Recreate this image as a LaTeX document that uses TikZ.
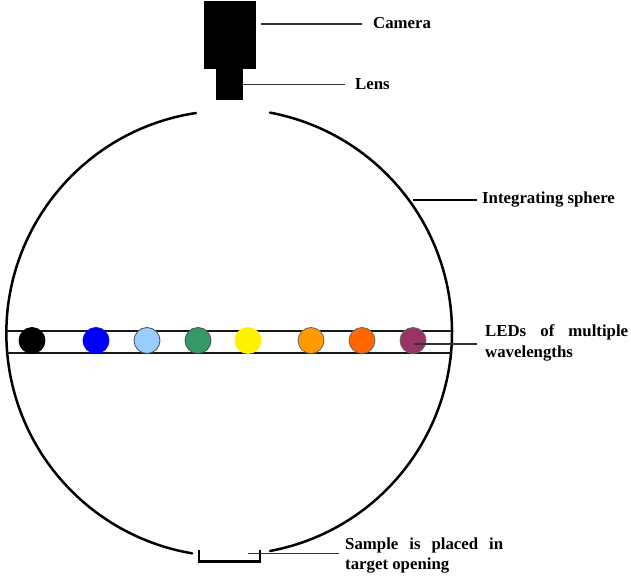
\documentclass[tikz,border=0pt]{standalone}
\usepackage{fontspec}
\setmainfont{Liberation Serif}
\definecolor{ledlight}{HTML}{99CCFF}
\definecolor{ledgreen}{HTML}{339966}
\definecolor{ledorange}{HTML}{FF9900}
\definecolor{leddark}{HTML}{FF6600}
\definecolor{ledpurple}{HTML}{993366}
\begin{document}
\begin{tikzpicture}[x=1pt,y=-1pt,
  blk/.style={draw=none,fill=black,inner sep=0pt,minimum width=#1},
  led/.style={circle,draw=#1,line width=0.8pt,minimum size=26pt,inner sep=0pt},
  sphere/.style={line width=2.5pt,line cap=round},
  strip/.style={line width=2.4pt,draw=black!90},
  leader/.style={line width=1.3pt,draw=black!80},
  lab/.style={font=\fontsize{16.8}{20.5}\selectfont\bfseries,inner sep=0pt,anchor=west,align=left}]
\useasboundingbox (0,0) rectangle (631,580);
\coordinate (c) at (229,332);
% sphere
\draw[sphere] (196,113) arc[start angle=-98.6,end angle=-260.4,radius=223];
\draw[sphere] (270,551) arc[start angle=79.4,end angle=-79.4,radius=223];
% strip
\coordinate (sl1) at (6,331); \coordinate (sr1) at (452,331);
\coordinate (sl2) at (7,353); \coordinate (sr2) at (451,353);
\draw[strip] (sl1) -- (sr1);
\draw[strip] (sl2) -- (sr2);
% LEDs
\node[led=black,fill=black] (l1) at (32,340.5) {};
\node[led=blue,fill=blue] (l2) at (96,340.5) {};
\node[led=black!70,fill=ledlight] (l3) at (147,340.5) {};
\node[led=black!70,fill=ledgreen] (l4) at (198,340.5) {};
\node[led=yellow,fill=yellow] (l5) at (248,340.5) {};
\node[led=black!60,fill=ledorange] (l6) at (311,340.5) {};
\node[led=black!60,fill=leddark] (l7) at (362,340.5) {};
\node[led=black!60,fill=ledpurple] (l8) at (413,340.5) {};
% camera
\node[blk=52pt,minimum height=68pt] (cam) at (230,35) {};
\node[blk=27pt,minimum height=33pt] (lens) at (229.5,84) {};
% sample holder
\coordinate (b1) at (199,550); \coordinate (b2) at (199,561.5);
\coordinate (b3) at (260,561.5); \coordinate (b4) at (260,550);
\draw[line width=2.2pt] (b1) -- (b2) -- (b3) -- (b4);
% labels
\node[lab] (tcam) at (373,23) {Camera};
\node[lab] (tlens) at (355,84) {Lens};
\node[lab] (tsph) at (482,200) {Integrating sphere};
\node[lab] (tled) at (485,343) {\hbox to 143pt{LEDs\hfill of\hfill multiple}\\wavelengths};
\node[lab] (tsam) at (345,555.5) {\hbox to 158pt{Sample\hfill is\hfill placed\hfill in}\\target opening};
% leaders
\coordinate (a1) at (261,24); \coordinate (a2) at (362,24);
\coordinate (a3) at (243,84.5); \coordinate (a4) at (345,84.5);
\coordinate (a5) at (413,200); \coordinate (a6) at (477,200);
\coordinate (a7) at (414,344); \coordinate (a8) at (477,344);
\coordinate (a9) at (248,553.5); \coordinate (a10) at (339,553.5);
\draw[leader] (a1) -- (a2);
\draw[leader] (a3) -- (a4);
\draw[leader,draw=black,line width=1.6pt] (a5) -- (a6);
\draw[leader] (a7) -- (a8);
\draw[leader] (a9) -- (a10);
\end{tikzpicture}
\end{document}
